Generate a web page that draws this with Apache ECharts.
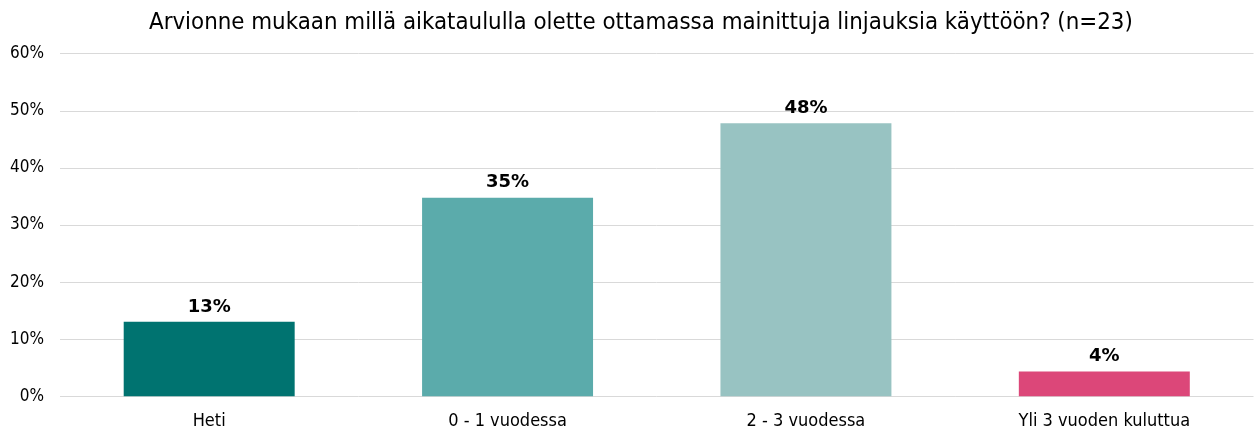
<!DOCTYPE html>
<html><head><meta charset="utf-8">
<script src="https://cdn.jsdelivr.net/npm/echarts@6/dist/echarts.min.js"></script>
<style>html,body{margin:0;padding:0;background:#fff}#c{width:1255px;height:436px}</style>
</head><body><div id="c"></div>
<script>
const titleText = 'Arvionne mukaan millä aikataululla olette ottamassa mainittuja linjauksia käyttöön? (n=23)';
const categories = ['Heti', '0 - 1 vuodessa', '2 - 3 vuodessa', 'Yli 3 vuoden kuluttua'];
const values = [13.04, 34.78, 47.83, 4.35];
const barColors = ['#007370', '#5BABAB', '#98C3C2', '#DC4779'];
const yTicks = [0, 10, 20, 30, 40, 50, 60];

const font = '"DejaVu Sans Condensed", "DejaVu Sans"';
const chart = echarts.init(document.getElementById('c'), null, {renderer: 'canvas'});
chart.setOption({
  animation: false,
  title: {text: titleText, left: 144, top: 6,
    textStyle: {fontFamily: font, fontSize: 23.8, fontWeight: 'normal', color: '#000'}},
  grid: {left: 60, right: 1.5, top: 53.7, bottom: 39.7, containLabel: false},
  xAxis: {type: 'category', data: categories,
    axisLine: {show: false}, axisTick: {show: false},
    axisLabel: {fontFamily: font, fontSize: 18, color: '#000', margin: 16}},
  yAxis: {type: 'value', min: yTicks[0], max: yTicks[yTicks.length - 1], interval: 10,
    axisLine: {show: false}, axisTick: {show: false},
    axisLabel: {fontFamily: font, fontSize: 17, color: '#000', margin: 16, formatter: v => v + '%'},
    splitLine: {lineStyle: {color: '#d9d9d9', width: 1}}},
  series: [{type: 'bar', barWidth: '57.3%',
    data: values.map((v, i) => ({value: v, itemStyle: {color: barColors[i]}})),
    label: {show: true, position: 'top', distance: 6, fontFamily: 'DejaVu Sans', fontSize: 18,
      fontWeight: 'bold', color: '#000', formatter: p => Math.round(p.value) + '%'}}]
});
</script></body></html>
